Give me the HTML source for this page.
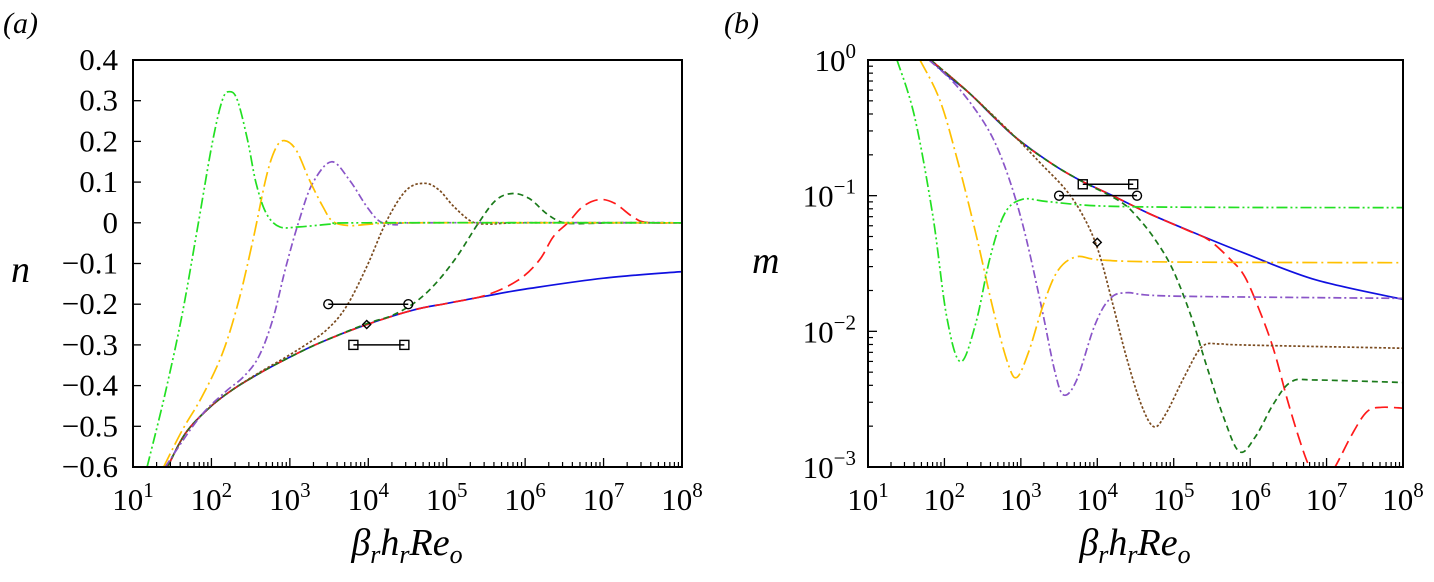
<!DOCTYPE html>
<html><head><meta charset="utf-8"><style>
html,body{margin:0;padding:0;background:#fff;}
svg, svg text{font-family:"Liberation Serif","DejaVu Serif","Times New Roman",Times,serif;}
</style></head><body>
<svg id="fig" width="1434" height="577" viewBox="0 0 1434 577" xmlns="http://www.w3.org/2000/svg">
<defs>
<clipPath id="clipA"><rect x="133" y="60" width="549" height="407"/></clipPath>
<clipPath id="clipB"><rect x="868" y="60" width="535" height="407"/></clipPath>
</defs>
<text x="3" y="33" font-size="30" font-style="italic">(a)</text>
<text x="724" y="33" font-size="30" font-style="italic">(b)</text>
<text x="11" y="282" font-size="38" font-style="italic">n</text>
<text x="752" y="273" font-size="38" font-style="italic">m</text>
<text x="407" y="555" font-size="38" font-style="italic" text-anchor="middle">β<tspan font-size="26" dy="8">r</tspan><tspan dy="-8">h</tspan><tspan font-size="26" dy="8">r</tspan><tspan dy="-8">Re</tspan><tspan font-size="26" dy="8">o</tspan></text>
<text x="1135" y="555" font-size="38" font-style="italic" text-anchor="middle">β<tspan font-size="26" dy="8">r</tspan><tspan dy="-8">h</tspan><tspan font-size="26" dy="8">r</tspan><tspan dy="-8">Re</tspan><tspan font-size="26" dy="8">o</tspan></text>
<g id="gA"></g>
<g id="gB"></g>
</svg>
<script>
// ---------- data (log10 x, value) ----------
const xDecades = [1,2,3,4,5,6,7,8];
const nTicks = [0.4,0.3,0.2,0.1,0,-0.1,-0.2,-0.3,-0.4,-0.5,-0.6];
const nTickLabels = ["0.4","0.3","0.2","0.1","0","\u22120.1","\u22120.2","\u22120.3","\u22120.4","\u22120.5","\u22120.6"];
const mDecades = [0,-1,-2,-3];

const aBlueX = [1.44,1.67,1.97,2.27,2.61,2.95,3.38,3.98,4.58,5.0,5.5,6.0,7.0,8.0];
const aBlueY = [-0.6,-0.517,-0.455,-0.41,-0.37,-0.335,-0.295,-0.25,-0.214,-0.198,-0.18,-0.163,-0.136,-0.12];
const aRedX = [1.44,1.67,1.97,2.27,2.61,2.95,3.38,3.98,4.58,5.0,5.5,5.91,6.18,6.36,6.55,6.73,6.94,7.14,7.37,7.55,8.0];
const aRedY = [-0.6,-0.517,-0.455,-0.41,-0.37,-0.335,-0.295,-0.25,-0.214,-0.198,-0.178,-0.141,-0.092,-0.034,0.001,0.039,0.057,0.048,0.015,0.001,0];
const aDGreenX = [1.44,1.67,1.97,2.27,2.61,2.95,3.38,3.98,4.3,4.6,4.86,5.13,5.41,5.63,5.84,6.05,6.27,6.46,6.68,7.14,8.0];
const aDGreenY = [-0.6,-0.517,-0.455,-0.41,-0.37,-0.335,-0.295,-0.248,-0.228,-0.195,-0.149,-0.083,0.001,0.056,0.072,0.06,0.023,0.002,-0.002,0,0];
const aBrownX = [1.44,1.67,1.97,2.27,2.61,2.95,3.2,3.47,3.72,3.98,4.24,4.49,4.72,4.9,5.09,5.32,5.54,6.0,8.0];
const aBrownY = [-0.6,-0.517,-0.455,-0.41,-0.368,-0.33,-0.3,-0.263,-0.206,-0.108,0.007,0.081,0.097,0.081,0.04,0.003,-0.003,0,0];
const aPurpleX = [1.41,1.84,2.18,2.4,2.6,2.78,2.95,3.12,3.29,3.53,3.76,3.98,4.15,4.36,4.62,8.0];
const aPurpleY = [-0.6,-0.48,-0.415,-0.38,-0.33,-0.239,-0.108,0.007,0.097,0.15,0.105,0.04,0.003,-0.005,0,0];
const aYellowX = [1.39,1.63,1.88,2.14,2.35,2.53,2.7,2.82,2.93,3.08,3.25,3.42,3.55,3.76,4.06,4.62,8.0];
const aYellowY = [-0.6,-0.509,-0.427,-0.321,-0.19,-0.042,0.113,0.183,0.202,0.179,0.105,0.04,0.003,-0.007,-0.003,0,0];
const aLimeX = [1.18,1.41,1.63,1.84,2.01,2.14,2.23,2.33,2.46,2.57,2.7,2.87,3.12,3.55,3.98,8.0];
const aLimeY = [-0.6,-0.419,-0.222,0.007,0.195,0.302,0.322,0.302,0.204,0.097,0.023,-0.01,-0.01,-0.003,0,0];

const bBlueX = [1.82,2.03,2.32,2.64,2.93,3.4,3.77,4.2,4.67,5.23,5.93,6.87,8.04];
const bBlueY = [0,-0.11,-0.241,-0.418,-0.57,-0.762,-0.885,-1.0,-1.13,-1.265,-1.425,-1.622,-1.769];
const bRedX = [1.82,2.32,2.93,3.4,3.77,4.2,4.67,5.18,5.46,5.75,5.93,6.12,6.31,6.5,6.69,6.8,6.95,7.11,7.34,7.53,7.72,8.04];
const bRedY = [0,-0.241,-0.57,-0.762,-0.885,-1.0,-1.13,-1.255,-1.327,-1.474,-1.597,-1.843,-2.138,-2.531,-2.875,-3.02,-3.12,-3.0,-2.752,-2.592,-2.56,-2.568];
const bDGreenX = [1.82,2.32,2.93,3.4,3.77,4.29,4.52,4.76,4.99,5.23,5.42,5.65,5.86,6.07,6.31,6.54,6.87,8.04];
const bDGreenY = [0,-0.241,-0.57,-0.762,-0.885,-1.04,-1.155,-1.327,-1.548,-1.892,-2.236,-2.629,-2.887,-2.776,-2.531,-2.371,-2.359,-2.378];
const bBrownX = [1.82,2.32,2.93,3.26,3.59,3.82,4.01,4.2,4.38,4.57,4.74,4.9,5.14,5.37,5.61,5.93,8.04];
const bBrownY = [0,-0.241,-0.57,-0.762,-0.958,-1.155,-1.4,-1.794,-2.187,-2.531,-2.703,-2.604,-2.334,-2.113,-2.093,-2.101,-2.125];
const bPurpleX = [1.8,2.17,2.55,2.79,3.02,3.26,3.44,3.56,3.73,3.96,4.15,4.38,4.99,8.04];
const bPurpleY = [0,-0.197,-0.491,-0.786,-1.204,-1.794,-2.285,-2.469,-2.359,-1.966,-1.769,-1.715,-1.74,-1.757];
const bYellowX = [1.68,1.94,2.17,2.41,2.64,2.83,2.95,3.11,3.3,3.49,3.73,4.05,4.99,8.04];
const bYellowY = [0,-0.295,-0.737,-1.278,-1.843,-2.236,-2.339,-2.138,-1.794,-1.548,-1.45,-1.474,-1.489,-1.494];
const bLimeX = [1.38,1.61,1.85,2.03,2.21,2.41,2.6,2.79,3.02,3.35,4.05,5.46,8.04];
const bLimeY = [0,-0.418,-1.155,-1.892,-2.224,-1.94,-1.45,-1.13,-1.027,-1.044,-1.076,-1.086,-1.088];

const aCircleBar = [3.49,4.51,-0.2];
const aSquareBar = [3.81,4.46,-0.3];
const aDiamond = [3.98,-0.25];
const bSquareBar = [3.81,4.47,-0.916];
const bCircleBar = [3.5,4.52,-1.0];
const bDiamond = [4.0,-1.344];

// ---------- axes ----------
const A = {x0:133,x1:682,y0:60,y1:467};
const B = {x0:868,x1:1403,y0:60,y1:467};
const axA = v => A.x0 + (v-1)/7*(A.x1-A.x0);
const ayA = v => A.y0 + (0.4-v)/1.0*(A.y1-A.y0);
const axB = v => B.x0 + (v-1)/7*(B.x1-B.x0);
const ayB = v => B.y0 + (0-v)/3*(B.y1-B.y0);
const NS = "http://www.w3.org/2000/svg";
function mk(tag, parent){const e=document.createElementNS(NS,tag);parent.appendChild(e);return e;}
function smooth(pts){
  let d = "M"+pts[0][0].toFixed(1)+","+pts[0][1].toFixed(1);
  for(let i=0;i<pts.length-1;i++){
    const p0=pts[Math.max(0,i-1)],p1=pts[i],p2=pts[i+1],p3=pts[Math.min(pts.length-1,i+2)];
    const c1=[p1[0]+(p2[0]-p0[0])/6,p1[1]+(p2[1]-p0[1])/6];
    const c2=[p2[0]-(p3[0]-p1[0])/6,p2[1]-(p3[1]-p1[1])/6];
    d+=" C"+c1[0].toFixed(1)+","+c1[1].toFixed(1)+" "+c2[0].toFixed(1)+","+c2[1].toFixed(1)+" "+p2[0].toFixed(1)+","+p2[1].toFixed(1);
  }
  return d;
}
const styles = {
  blue:["#1010e0",""], red:["#ff1a1a","13,6"], dgreen:["#1a7a1a","6,4"], brown:["#7a4a1e","2.5,2"],
  purple:["#8a55c8","8,3,2,3"], yellow:["#ffc000","15,4,2,4"], lime:["#22e022","11,3,2,3,2,3"]
};
function drawSeries(g, xs, ys, fx, fy, key, clip, name){
  const p = mk("path", g);
  
  
  p.setAttribute("d", smooth(xs.map((x,i)=>[fx(x),fy(ys[i])])));
  p.setAttribute("fill","none");
  p.setAttribute("stroke",styles[key][0]);
  p.setAttribute("stroke-width","1.7");
  if(styles[key][1]) p.setAttribute("stroke-dasharray",styles[key][1]);
  p.setAttribute("clip-path","url(#"+clip+")");
}
function line(g,x1,y1,x2,y2,w,name){
  const l=mk("line",g);
  
  
  l.setAttribute("x1",x1);l.setAttribute("y1",y1);l.setAttribute("x2",x2);l.setAttribute("y2",y2);
  l.setAttribute("stroke","#000");l.setAttribute("stroke-width",w);
}
function text(g,x,y,s,anchor,size,name){
  const t=mk("text",g);
  
  
  t.setAttribute("x",x);t.setAttribute("y",y);t.setAttribute("text-anchor",anchor);t.setAttribute("font-size",size);
  t.textContent=s; return t;
}
function powLabel(g,x,y,exp,anchor,name){
  const t=mk("text",g);
  
  
  t.setAttribute("x",x);t.setAttribute("y",y);t.setAttribute("text-anchor",anchor);t.setAttribute("font-size","31");
  t.appendChild(document.createTextNode("10"));
  const s=mk("tspan",t);s.setAttribute("font-size","21");s.setAttribute("dy","-13");s.textContent=exp;
}
function xAxis(g,P,fx,name){
  xDecades.forEach(d=>{
    const x=fx(d);
    line(g,x,P.y1,x,P.y1-9,1.3,name+"-major-tick");
    powLabel(g,x,P.y1+43,String(d),"middle",name+"-tick-label");
    if(d<8) for(let k=2;k<=9;k++){const xm=fx(d+Math.log10(k));line(g,xm,P.y1,xm,P.y1-5,1.2,name+"-minor-tick");}
  });
}
function markers(g,bar,sqBar,dia,fx,fy,pfx){
  const cb=mk("g",g);
  
  
  line(cb,fx(bar[0]),fy(bar[2]),fx(bar[1]),fy(bar[2]),1.5,"circle-range-line");
  [bar[0],bar[1]].forEach(v=>{const c=mk("circle",cb);c.setAttribute("cx",fx(v));c.setAttribute("cy",fy(bar[2]));c.setAttribute("r","4.5");c.setAttribute("fill","none");c.setAttribute("stroke","#000");c.setAttribute("stroke-width","1.4");
    
    });
  const sb=mk("g",g);
  
  
  line(sb,fx(sqBar[0]),fy(sqBar[2]),fx(sqBar[1]),fy(sqBar[2]),1.5,"square-range-line");
  [sqBar[0],sqBar[1]].forEach(v=>{const r=mk("rect",sb);r.setAttribute("x",fx(v)-4.5);r.setAttribute("y",fy(sqBar[2])-4.5);r.setAttribute("width","9");r.setAttribute("height","9");r.setAttribute("fill","none");r.setAttribute("stroke","#000");r.setAttribute("stroke-width","1.4");
    
    });
  const dm=mk("path",g);
  
  
  const dx=fx(dia[0]),dy=fy(dia[1]);
  dm.setAttribute("d",`M${dx},${dy-4} L${dx+4},${dy} L${dx},${dy+4} L${dx-4},${dy} Z`);
  dm.setAttribute("fill","none");dm.setAttribute("stroke","#000");dm.setAttribute("stroke-width","1.4");
}

// Panel A
const gA=document.getElementById("gA");
drawSeries(gA,aBlueX,aBlueY,axA,ayA,"blue","clipA","series-a-blue");
drawSeries(gA,aRedX,aRedY,axA,ayA,"red","clipA","series-a-red");
drawSeries(gA,aDGreenX,aDGreenY,axA,ayA,"dgreen","clipA","series-a-dark-green");
drawSeries(gA,aBrownX,aBrownY,axA,ayA,"brown","clipA","series-a-brown");
drawSeries(gA,aPurpleX,aPurpleY,axA,ayA,"purple","clipA","series-a-purple");
drawSeries(gA,aYellowX,aYellowY,axA,ayA,"yellow","clipA","series-a-yellow");
drawSeries(gA,aLimeX,aLimeY,axA,ayA,"lime","clipA","series-a-lime");
markers(gA,aCircleBar,aSquareBar,aDiamond,axA,ayA,"a");
xAxis(gA,A,axA,"a-x-axis");
nTicks.forEach((v,i)=>{const y=ayA(v);line(gA,A.x0,y,A.x0+8,y,1.3,"a-y-tick");text(gA,118,y+10,nTickLabels[i],"end","31","a-y-tick-label");});
const fA=mk("rect",gA);


fA.setAttribute("x",A.x0);fA.setAttribute("y",A.y0);fA.setAttribute("width",A.x1-A.x0);fA.setAttribute("height",A.y1-A.y0);fA.setAttribute("fill","none");fA.setAttribute("stroke","#000");fA.setAttribute("stroke-width","2");

// Panel B
const gB=document.getElementById("gB");
drawSeries(gB,bBlueX,bBlueY,axB,ayB,"blue","clipB","series-b-blue");
drawSeries(gB,bRedX,bRedY,axB,ayB,"red","clipB","series-b-red");
drawSeries(gB,bDGreenX,bDGreenY,axB,ayB,"dgreen","clipB","series-b-dark-green");
drawSeries(gB,bBrownX,bBrownY,axB,ayB,"brown","clipB","series-b-brown");
drawSeries(gB,bPurpleX,bPurpleY,axB,ayB,"purple","clipB","series-b-purple");
drawSeries(gB,bYellowX,bYellowY,axB,ayB,"yellow","clipB","series-b-yellow");
drawSeries(gB,bLimeX,bLimeY,axB,ayB,"lime","clipB","series-b-lime");
markers(gB,bCircleBar,bSquareBar,bDiamond,axB,ayB,"b");
xAxis(gB,B,axB,"b-x-axis");
mDecades.forEach(d=>{
  const y=ayB(d);
  line(gB,B.x0,y,B.x0+9,y,1.3,"b-y-major-tick");
  powLabel(gB,856,y+11,d===0?"0":"\u2212"+(-d),"end","b-y-tick-label");
  if(d>-3) for(let k=2;k<=9;k++){const ym=ayB(d-1+Math.log10(k));line(gB,B.x0,ym,B.x0+5,ym,1.2,"b-y-minor-tick");}
});
const fB=mk("rect",gB);


fB.setAttribute("x",B.x0);fB.setAttribute("y",B.y0);fB.setAttribute("width",B.x1-B.x0);fB.setAttribute("height",B.y1-B.y0);fB.setAttribute("fill","none");fB.setAttribute("stroke","#000");fB.setAttribute("stroke-width","2");
</script>
</body></html>
